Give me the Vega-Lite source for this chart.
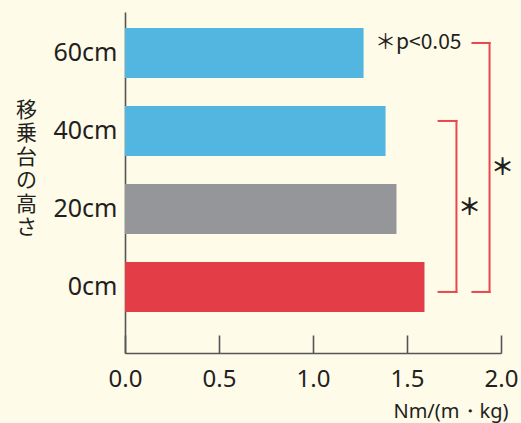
{
  "$schema": "https://vega.github.io/schema/vega-lite/v6.json",
  "autosize": "none",
  "width": 376,
  "height": 341,
  "padding": {"left": 125, "top": 12, "right": 20, "bottom": 70},
  "background": "#fefbe9",
  "view": {"stroke": null},
  "config": {
    "font": "Noto Sans",
    "axis": {"labelColor": "#231f20", "titleColor": "#231f20", "domainColor": "#555555", "tickColor": "#555555", "domainWidth": 1.6, "tickWidth": 1.6, "grid": false}
  },
  "layer": [
    {
      "data": {"values": [
        {"height": "60cm", "value": 1.269},
        {"height": "40cm", "value": 1.386},
        {"height": "20cm", "value": 1.444},
        {"height": "0cm", "value": 1.593}
      ]},
      "mark": {"type": "bar"},
      "encoding": {
        "y": {
          "field": "height", "type": "nominal", "sort": null,
          "scale": {"domain": ["60cm", "40cm", "20cm", "0cm"], "paddingInner": 0.359, "paddingOuter": 0.3655, "align": 0.28},
          "axis": {
            "title": ["移", "乗", "台", "の", "高", "さ"],
            "titleFont": "Noto Sans CJK JP", "titleFontSize": 21, "titleFontWeight": "normal",
            "titleAngle": 0, "titleLineHeight": 23.5, "titleAlign": "center", "titleBaseline": "top",
            "titleX": -99, "titleY": 87,
            "ticks": false, "labelFontSize": 25, "labelPadding": 8
          }
        },
        "x": {
          "field": "value", "type": "quantitative",
          "scale": {"domain": [0, 2]},
          "axis": {
            "values": [0, 0.5, 1, 1.5, 2], "format": ".1f", "labelFlush": false,
            "tickSize": -18, "labelPadding": 32, "labelFontSize": 24,
            "title": "Nm/(m・kg)", "titleFontSize": 20, "titleFontWeight": "normal",
            "titleAlign": "right", "titleBaseline": "alphabetic", "titleX": 383, "titleY": 64
          }
        },
        "color": {
          "field": "height", "type": "nominal",
          "scale": {"domain": ["60cm", "40cm", "20cm", "0cm"], "range": ["#53b6e0", "#53b6e0", "#959699", "#e33e47"]},
          "legend": null
        }
      }
    },
    {
      "data": {"values": [
        {"cat": "60cm", "x1": 1.848, "x2": 1.939},
        {"cat": "40cm", "x1": 1.668, "x2": 1.763}
      ]},
      "mark": {"type": "rule", "color": "#e8474f", "strokeWidth": 2, "strokeCap": "square"},
      "encoding": {
        "y": {"field": "cat", "type": "nominal", "bandPosition": 0.3},
        "x": {"field": "x1", "type": "quantitative"},
        "x2": {"field": "x2"}
      }
    },
    {
      "data": {"values": [
        {"cat": "0cm", "x1": 1.848, "x2": 1.939},
        {"cat": "0cm", "x1": 1.668, "x2": 1.763}
      ]},
      "mark": {"type": "rule", "color": "#e8474f", "strokeWidth": 2, "strokeCap": "square"},
      "encoding": {
        "y": {"field": "cat", "type": "nominal", "bandPosition": 0.6},
        "x": {"field": "x1", "type": "quantitative"},
        "x2": {"field": "x2"}
      }
    },
    {
      "data": {"values": [
        {"top": "60cm", "bottom": "0cm", "x": 1.939},
        {"top": "40cm", "bottom": "0cm", "x": 1.763}
      ]},
      "mark": {"type": "rule", "color": "#e8474f", "strokeWidth": 2, "strokeCap": "square"},
      "encoding": {
        "y": {"field": "top", "type": "nominal", "bandPosition": 0.3},
        "y2": {"field": "bottom", "bandPosition": 0.6},
        "x": {"field": "x", "type": "quantitative"}
      }
    },
    {
      "data": {"values": [
        {"cat": "20cm", "x": 1.832, "label": "＊"}
      ]},
      "mark": {"type": "text", "font": "Noto Sans CJK JP", "fontSize": 23, "fontWeight": "bold", "color": "#231f20", "baseline": "middle", "align": "center"},
      "encoding": {
        "y": {"field": "cat", "type": "nominal", "bandPosition": 0.48},
        "x": {"field": "x", "type": "quantitative"},
        "text": {"field": "label"}
      }
    },
    {
      "data": {"values": [
        {"cat": "40cm", "x": 2.008, "label": "＊"}
      ]},
      "mark": {"type": "text", "font": "Noto Sans CJK JP", "fontSize": 23, "fontWeight": "bold", "color": "#231f20", "baseline": "middle", "align": "center"},
      "encoding": {
        "y": {"field": "cat", "type": "nominal", "bandPosition": 1.24},
        "x": {"field": "x", "type": "quantitative"},
        "text": {"field": "label"}
      }
    },
    {
      "data": {"values": [
        {"cat": "60cm", "x": 1.79, "label": "＊p<0.05"}
      ]},
      "mark": {"type": "text", "font": "Noto Sans CJK JP", "fontSize": 21, "color": "#231f20", "baseline": "middle", "align": "right"},
      "encoding": {
        "y": {"field": "cat", "type": "nominal", "bandPosition": 0.3},
        "x": {"field": "x", "type": "quantitative"},
        "text": {"field": "label"}
      }
    }
  ]
}
